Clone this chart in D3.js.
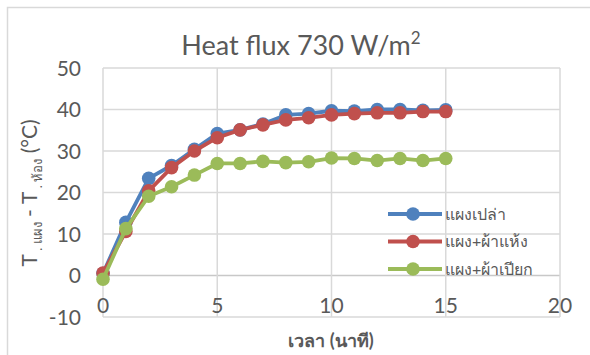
<!DOCTYPE html>
<html>
<head>
<meta charset="utf-8">
<script src="https://cdn.jsdelivr.net/npm/d3@7"></script>
<style>
  body { margin: 0; background: #fff; }
  text { font-family: Lato, "Noto Sans", "DejaVu Sans", sans-serif; fill: #595959; }
</style>
</head>
<body>
<svg width="590" height="355"></svg>
<script>
// data
const minutes = [0, 1, 2, 3, 4, 5, 6, 7, 8, 9, 10, 11, 12, 13, 14, 15];
const bare = [0.5, 12.8, 23.4, 26.5, 30.4, 34.2, 35.1, 36.5, 38.7, 39.0, 39.7, 39.6, 40.0, 40.0, 39.8, 39.9];
const dryCloth = [0.6, 10.6, 20.4, 26.0, 30.0, 33.2, 35.1, 36.3, 37.5, 38.0, 38.7, 39.0, 39.2, 39.2, 39.5, 39.5];
const wetCloth = [-0.9, 11.3, 19.1, 21.4, 24.2, 27.0, 27.0, 27.5, 27.2, 27.4, 28.3, 28.2, 27.7, 28.2, 27.7, 28.2];
const seriesNames = ["แผงเปล่า", "แผง+ผ้าแห้ง", "แผง+ผ้าเปียก"];
const seriesColors = ["#4F81BD", "#C0504D", "#9BBB59"];
const xTicks = [0, 5, 10, 15, 20];
const yTicks = [-10, 0, 10, 20, 30, 40, 50];

const series = [bare, dryCloth, wetCloth].map((vals, i) => ({
  name: seriesNames[i],
  color: seriesColors[i],
  points: minutes.map((m, j) => ({x: m, y: vals[j]}))
}));

const svg = d3.select("svg");

// chart border (left + top, runs off the page)
svg.append("path")
  .attr("d", "M7.5,360 V7.5 H600")
  .attr("fill", "none")
  .attr("stroke", "#d9d9d9")
  .attr("stroke-width", 1.5);

const x = d3.scaleLinear().domain([0, 20]).range([103, 560]);
const y = d3.scaleLinear().domain([-10, 50]).range([317, 68]);

// gridlines
svg.append("g").selectAll("line")
  .data(yTicks)
  .enter().append("line")
    .attr("x1", x(0)).attr("x2", x(20))
    .attr("y1", d => y(d)).attr("y2", d => y(d))
    .attr("stroke", d => d === 0 ? "#c8c8c8" : "#d9d9d9")
    .attr("stroke-width", 1.5);

svg.append("g").selectAll("line")
  .data(xTicks)
  .enter().append("line")
    .attr("x1", d => x(d)).attr("x2", d => x(d))
    .attr("y1", y(-10)).attr("y2", y(50))
    .attr("stroke", "#d9d9d9")
    .attr("stroke-width", 1.5);

// tick labels
svg.append("g").selectAll("text")
  .data(yTicks)
  .enter().append("text")
    .attr("x", 81)
    .attr("y", d => y(d))
    .attr("dy", "0.36em")
    .attr("text-anchor", "end")
    .attr("font-size", 21)
    .text(d => d);

svg.append("g").selectAll("text")
  .data(xTicks)
  .enter().append("text")
    .attr("x", d => x(d))
    .attr("y", 313)
    .attr("text-anchor", "middle")
    .attr("font-size", 21)
    .text(d => d);

// title
const title = svg.append("text")
  .attr("x", 301)
  .attr("y", 55)
  .attr("text-anchor", "middle")
  .attr("font-size", 27);
title.append("tspan").text("Heat flux 730 W/m");
title.append("tspan").attr("font-size", 17).attr("dy", -11).text("2");

// axis titles
svg.append("text")
  .attr("x", 331)
  .attr("y", 347)
  .attr("text-anchor", "middle")
  .attr("font-size", 18)
  .attr("font-weight", "bold")
  .text("เวลา (นาที)");

const yl = svg.append("text")
  .attr("transform", "translate(37,193) rotate(-90)")
  .attr("text-anchor", "middle")
  .attr("font-size", 21);
yl.append("tspan").text("T");
yl.append("tspan").attr("font-size", 13).attr("dy", 5).text(" . แผง");
yl.append("tspan").attr("dy", -5).text(" - T");
yl.append("tspan").attr("font-size", 13).attr("dy", 5).text(" . ห้อง");
yl.append("tspan").attr("dy", -5).text("  (°C)");

// series
const line = d3.line().x(d => x(d.x)).y(d => y(d.y));

series.forEach(s => {
  const g = svg.append("g");
  g.append("path")
    .datum(s.points)
    .attr("d", line)
    .attr("fill", "none")
    .attr("stroke", s.color)
    .attr("stroke-width", 3.8)
    .attr("stroke-linejoin", "round");
  g.selectAll("circle")
    .data(s.points)
    .enter().append("circle")
      .attr("cx", d => x(d.x))
      .attr("cy", d => y(d.y))
      .attr("r", 6.8)
      .attr("fill", s.color);
});

// legend
const legend = svg.append("g").selectAll("g")
  .data(series)
  .enter().append("g")
    .attr("transform", (d, i) => "translate(0," + (214 + i * 27.5) + ")");
legend.append("line")
  .attr("x1", 388).attr("x2", 442)
  .attr("stroke", d => d.color)
  .attr("stroke-width", 3.8);
legend.append("circle")
  .attr("cx", 413)
  .attr("r", 6.8)
  .attr("fill", d => d.color);
legend.append("text")
  .attr("x", 445)
  .attr("dy", "0.35em")
  .attr("font-size", 16)
  .text(d => d.name);
</script>
</body>
</html>
